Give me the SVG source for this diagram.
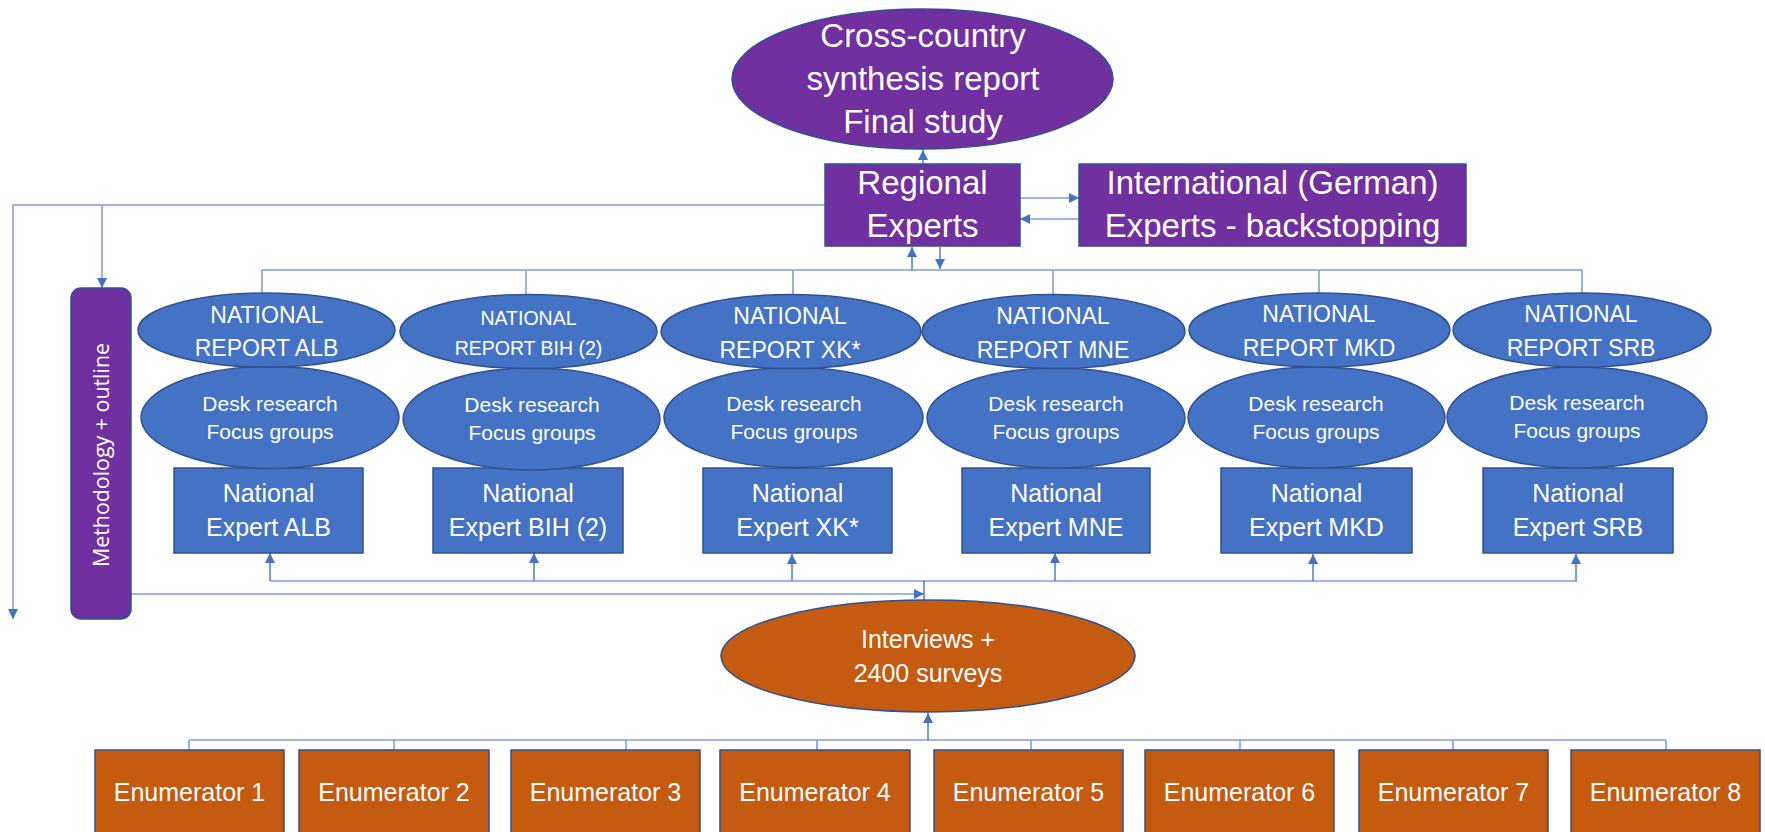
<svg xmlns="http://www.w3.org/2000/svg" width="1765" height="832" viewBox="0 0 1765 832">
<style>
.pur{fill:#7030A0;stroke:#2F528F;stroke-width:1.5}
.blu{fill:#4472C4;stroke:#2F528F;stroke-width:1.5}
.org{fill:#C55A11;stroke:#2F528F;stroke-width:1.5}
.t{font-family:"Liberation Sans",Arial,sans-serif;fill:#FFFFFF;text-anchor:middle}
.big{font-size:33px}
.rep{font-size:23px}
.rep2{font-size:19.5px}
.desk{font-size:21px}
.exp{font-size:25px}
.enu{font-size:25px}
.meth{font-family:"Open Sans","DejaVu Sans",sans-serif;font-size:21px;fill:#FFFFFF;text-anchor:middle}
.c{fill:none;stroke:#7F9FD8;stroke-width:1.6}
.ca{fill:none;stroke:#4472C4;stroke-width:1.4}
</style>
<defs>
<marker id="ah" markerUnits="userSpaceOnUse" markerWidth="10" markerHeight="10" refX="10" refY="5" orient="auto">
<path d="M0,0 L10,5 L0,10 Z" fill="#4472C4"/>
</marker>
</defs>

<g id="connectors">
<line class="ca" x1="923" y1="164" x2="923" y2="150" marker-end="url(#ah)"/>
<line class="c" x1="1020" y1="198" x2="1079" y2="198" marker-end="url(#ah)"/>
<line class="c" x1="1079" y1="219" x2="1020" y2="219" marker-end="url(#ah)"/>
<line class="ca" x1="912" y1="270" x2="912" y2="247" marker-end="url(#ah)"/>
<line class="ca" x1="940" y1="247" x2="940" y2="269" marker-end="url(#ah)"/>
<polyline class="c" points="262,293 262,270 1582,270 1582,293"/>
<line class="c" x1="526" y1="270" x2="526" y2="295"/>
<line class="c" x1="793" y1="270" x2="793" y2="295"/>
<line class="c" x1="1053" y1="270" x2="1053" y2="295"/>
<line class="c" x1="1319" y1="270" x2="1319" y2="293"/>
<polyline class="c" points="825,205 13,205 13,619" marker-end="url(#ah)"/>
<line class="c" x1="102" y1="205" x2="102" y2="288" marker-end="url(#ah)"/>
<line class="c" x1="131" y1="594" x2="924" y2="594" marker-end="url(#ah)"/>
<line class="c" x1="270" y1="581" x2="1577" y2="581"/>
<line class="ca" x1="270" y1="581" x2="270" y2="553" marker-end="url(#ah)"/>
<line class="ca" x1="534" y1="581" x2="534" y2="553" marker-end="url(#ah)"/>
<line class="ca" x1="792" y1="581" x2="792" y2="554" marker-end="url(#ah)"/>
<line class="ca" x1="1055" y1="581" x2="1055" y2="553" marker-end="url(#ah)"/>
<line class="ca" x1="1313" y1="581" x2="1313" y2="554" marker-end="url(#ah)"/>
<line class="ca" x1="1576" y1="581" x2="1576" y2="554" marker-end="url(#ah)"/>
<line class="ca" x1="924" y1="581" x2="924" y2="607"/>
<line class="c" x1="189" y1="740" x2="1666" y2="740"/>
<line class="c" x1="189" y1="740" x2="189" y2="750"/>
<line class="c" x1="394" y1="740" x2="394" y2="750"/>
<line class="c" x1="626" y1="740" x2="626" y2="750"/>
<line class="c" x1="817" y1="740" x2="817" y2="750"/>
<line class="c" x1="1031" y1="740" x2="1031" y2="750"/>
<line class="c" x1="1240" y1="740" x2="1240" y2="750"/>
<line class="c" x1="1453" y1="740" x2="1453" y2="750"/>
<line class="c" x1="1666" y1="740" x2="1666" y2="750"/>
<line class="ca" x1="928" y1="740" x2="928" y2="713" marker-end="url(#ah)"/>
</g>

<g id="cross-country">
<ellipse class="pur" cx="922.5" cy="79" rx="190.5" ry="70"/>
<text class="t big" x="923" y="47">Cross-country</text>
<text class="t big" x="923" y="90">synthesis report</text>
<text class="t big" x="923" y="133">Final study</text>
</g>

<g id="regional-experts">
<rect class="pur" x="825" y="164" width="195" height="82"/>
<text class="t big" x="922.5" y="194">Regional</text>
<text class="t big" x="922.5" y="237">Experts</text>
</g>

<g id="international-experts">
<rect class="pur" x="1079" y="164" width="387" height="82"/>
<text class="t big" x="1272.5" y="194">International (German)</text>
<text class="t big" x="1272.5" y="237">Experts - backstopping</text>
</g>

<g id="methodology">
<rect class="pur" x="71" y="288" width="60" height="331" rx="10" ry="10"/>
<text class="meth" x="109" y="455" transform="rotate(-90 109 455)" textLength="224" lengthAdjust="spacingAndGlyphs">Methodology + outline</text>
</g>

<g id="alb">
<rect class="blu" x="174" y="468" width="189" height="85"/>
<ellipse class="blu" cx="270" cy="417.5" rx="129" ry="51"/>
<ellipse class="blu" cx="266.5" cy="330" rx="128.5" ry="37"/>
<text class="t rep" x="267" y="323">NATIONAL</text>
<text class="t rep" x="266.5" y="356">REPORT ALB</text>
<text class="t desk" x="270" y="411">Desk research</text>
<text class="t desk" x="270" y="439">Focus groups</text>
<text class="t exp" x="268.5" y="502">National</text>
<text class="t exp" x="268.5" y="536">Expert ALB</text>
</g>

<g id="bih">
<rect class="blu" x="433" y="468" width="190" height="85"/>
<ellipse class="blu" cx="531.5" cy="419" rx="128.5" ry="51"/>
<ellipse class="blu" cx="528.5" cy="331.5" rx="128.5" ry="37"/>
<text class="t rep2" x="528.5" y="325">NATIONAL</text>
<text class="t rep2" x="528.5" y="355">REPORT BIH (2)</text>
<text class="t desk" x="532" y="412">Desk research</text>
<text class="t desk" x="532" y="440">Focus groups</text>
<text class="t exp" x="528" y="502">National</text>
<text class="t exp" x="528" y="536">Expert BIH (2)</text>
</g>

<g id="xk">
<rect class="blu" x="703" y="468" width="189" height="85"/>
<ellipse class="blu" cx="793.5" cy="417.5" rx="129.5" ry="50"/>
<ellipse class="blu" cx="791" cy="331.5" rx="130" ry="37"/>
<text class="t rep" x="790" y="324">NATIONAL</text>
<text class="t rep" x="790" y="358">REPORT XK*</text>
<text class="t desk" x="794" y="411">Desk research</text>
<text class="t desk" x="794" y="439">Focus groups</text>
<text class="t exp" x="797.5" y="502">National</text>
<text class="t exp" x="797.5" y="536">Expert XK*</text>
</g>

<g id="mne">
<rect class="blu" x="962" y="468" width="188" height="85"/>
<ellipse class="blu" cx="1056" cy="418" rx="129" ry="50"/>
<ellipse class="blu" cx="1053.5" cy="331.5" rx="131.5" ry="37"/>
<text class="t rep" x="1053" y="324">NATIONAL</text>
<text class="t rep" x="1053" y="358">REPORT MNE</text>
<text class="t desk" x="1056" y="411">Desk research</text>
<text class="t desk" x="1056" y="439">Focus groups</text>
<text class="t exp" x="1056" y="502">National</text>
<text class="t exp" x="1056" y="536">Expert MNE</text>
</g>

<g id="mkd">
<rect class="blu" x="1221" y="468" width="191" height="85"/>
<ellipse class="blu" cx="1316.5" cy="417.5" rx="128.5" ry="50.5"/>
<ellipse class="blu" cx="1319.5" cy="330" rx="130.5" ry="37"/>
<text class="t rep" x="1319" y="322">NATIONAL</text>
<text class="t rep" x="1319" y="356">REPORT MKD</text>
<text class="t desk" x="1316" y="411">Desk research</text>
<text class="t desk" x="1316" y="439">Focus groups</text>
<text class="t exp" x="1316.5" y="502">National</text>
<text class="t exp" x="1316.5" y="536">Expert MKD</text>
</g>

<g id="srb">
<rect class="blu" x="1483" y="468" width="190" height="85"/>
<ellipse class="blu" cx="1577" cy="417.5" rx="130" ry="50.5"/>
<ellipse class="blu" cx="1582" cy="330" rx="129" ry="37"/>
<text class="t rep" x="1581" y="322">NATIONAL</text>
<text class="t rep" x="1581" y="356">REPORT SRB</text>
<text class="t desk" x="1577" y="410">Desk research</text>
<text class="t desk" x="1577" y="438">Focus groups</text>
<text class="t exp" x="1578" y="502">National</text>
<text class="t exp" x="1578" y="536">Expert SRB</text>
</g>

<g id="interviews">
<ellipse class="org" cx="928" cy="656" rx="207" ry="56"/>
<text class="t enu" x="928" y="648">Interviews +</text>
<text class="t enu" x="928" y="682">2400 surveys</text>
</g>

<g id="enumerator-1"><rect class="org" x="95" y="750" width="189" height="95"/><text class="t enu" x="189.5" y="801">Enumerator 1</text></g>
<g id="enumerator-2"><rect class="org" x="299" y="750" width="190" height="95"/><text class="t enu" x="394" y="801">Enumerator 2</text></g>
<g id="enumerator-3"><rect class="org" x="511" y="750" width="189" height="95"/><text class="t enu" x="605.5" y="801">Enumerator 3</text></g>
<g id="enumerator-4"><rect class="org" x="720" y="750" width="190" height="95"/><text class="t enu" x="815" y="801">Enumerator 4</text></g>
<g id="enumerator-5"><rect class="org" x="934" y="750" width="189" height="95"/><text class="t enu" x="1028.5" y="801">Enumerator 5</text></g>
<g id="enumerator-6"><rect class="org" x="1145" y="750" width="189" height="95"/><text class="t enu" x="1239.5" y="801">Enumerator 6</text></g>
<g id="enumerator-7"><rect class="org" x="1359" y="750" width="189" height="95"/><text class="t enu" x="1453.5" y="801">Enumerator 7</text></g>
<g id="enumerator-8"><rect class="org" x="1571" y="750" width="189" height="95"/><text class="t enu" x="1665.5" y="801">Enumerator 8</text></g>
</svg>
